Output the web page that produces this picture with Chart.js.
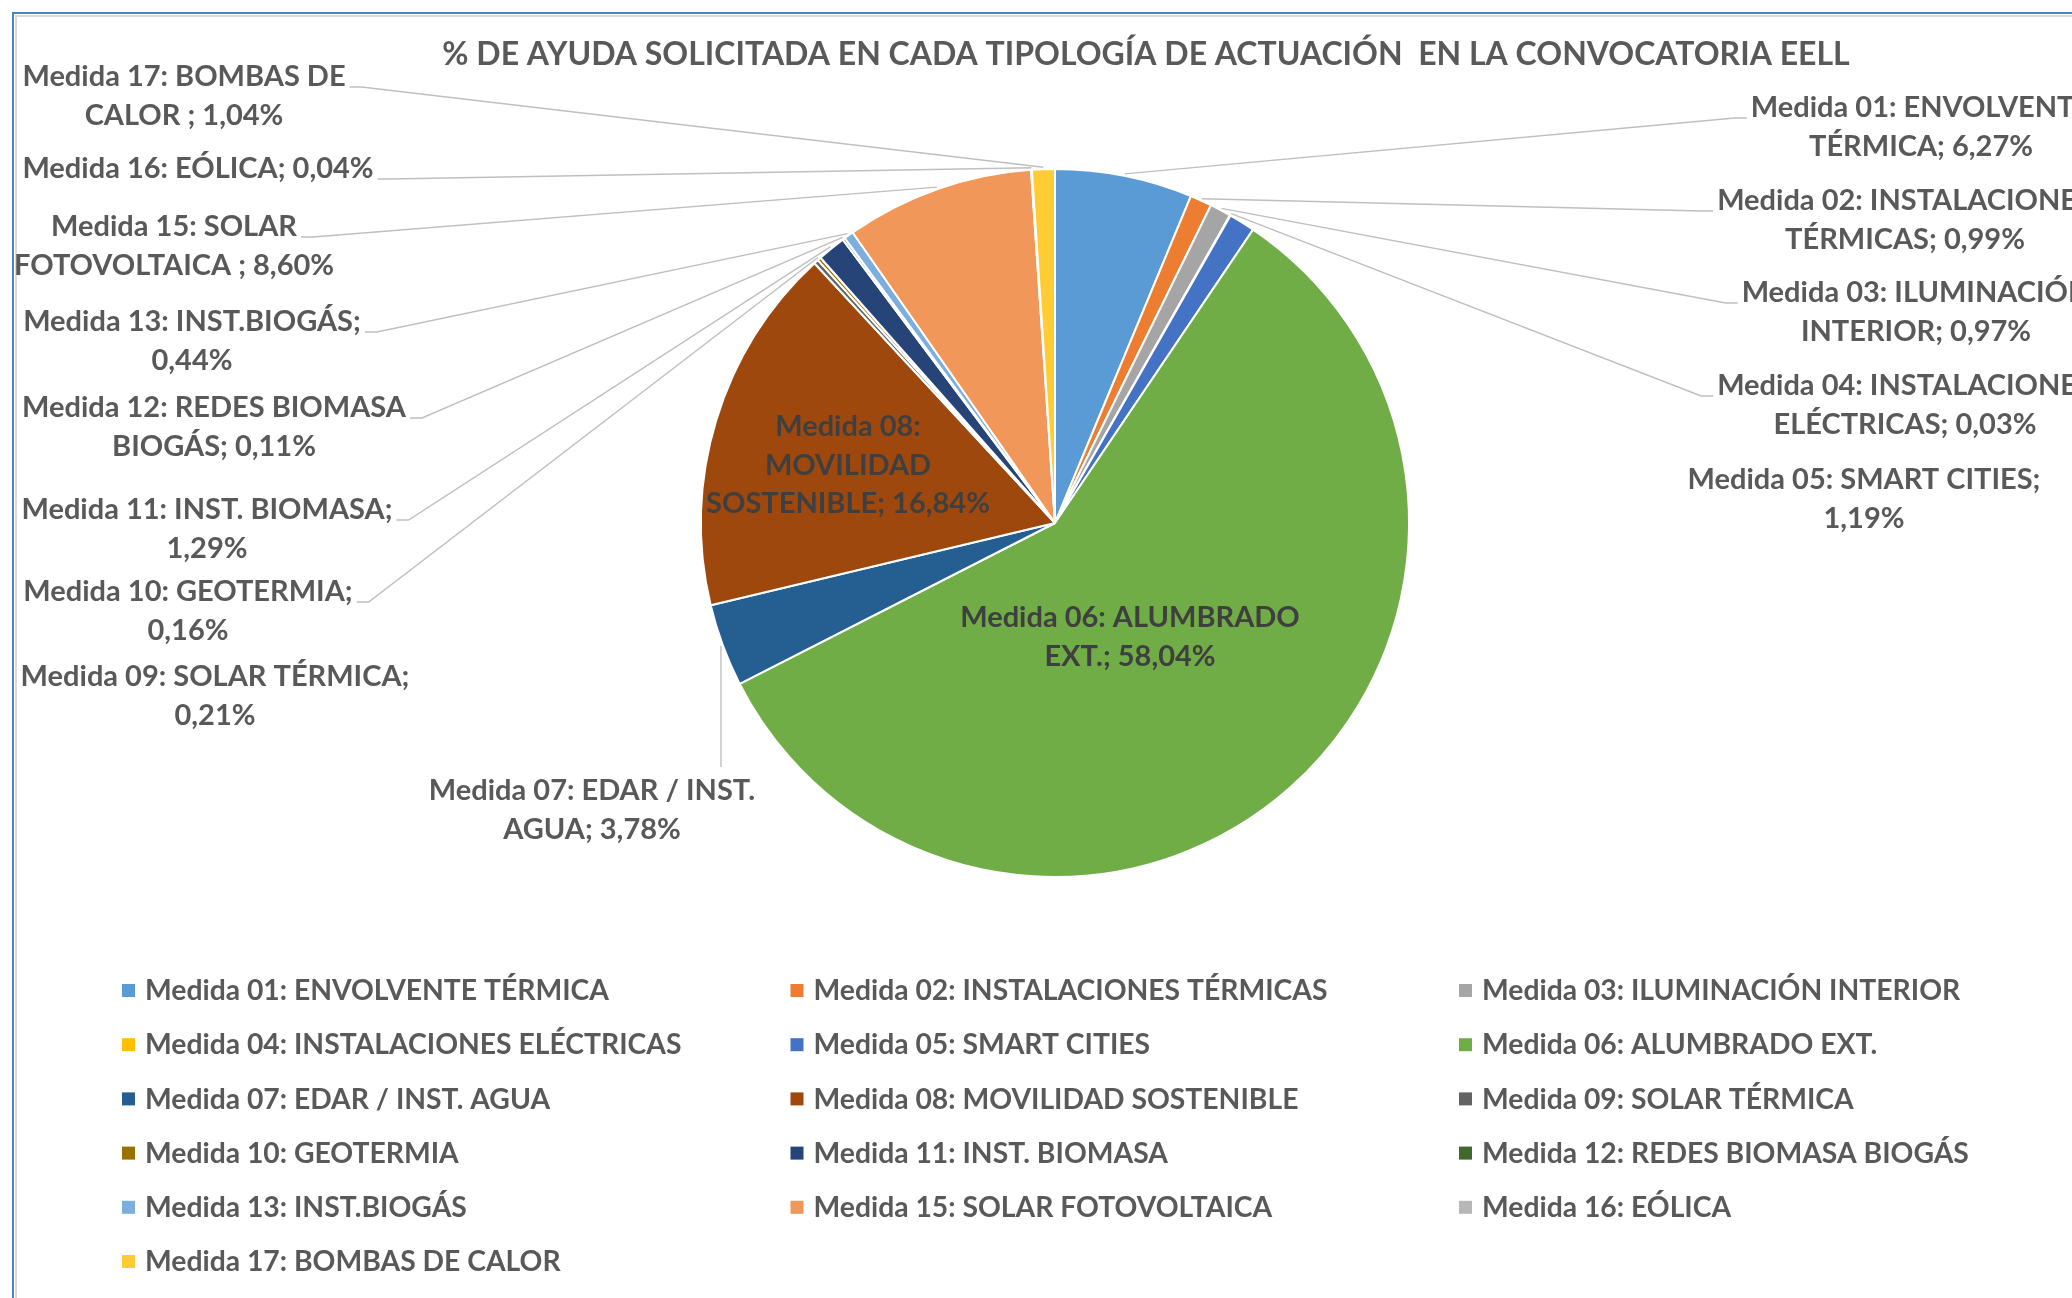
<!DOCTYPE html>
<html lang="es">
<head>
<meta charset="UTF-8">
<title>% de ayuda solicitada - convocatoria EELL</title>
<script src="https://cdn.jsdelivr.net/npm/chart.js"></script>
<style>
    body { margin: 0; background: #fff; }
    canvas { display: block; }
</style>
</head>
<body>
<canvas id="chart" width="2072" height="1298"></canvas>
<script>
    // Data (no Medida 14 in the source)
    const categories = [
        'Medida 01: ENVOLVENTE TÉRMICA',
        'Medida 02: INSTALACIONES TÉRMICAS',
        'Medida 03: ILUMINACIÓN INTERIOR',
        'Medida 04: INSTALACIONES ELÉCTRICAS',
        'Medida 05: SMART CITIES',
        'Medida 06: ALUMBRADO EXT.',
        'Medida 07: EDAR / INST. AGUA',
        'Medida 08: MOVILIDAD SOSTENIBLE',
        'Medida 09: SOLAR TÉRMICA',
        'Medida 10: GEOTERMIA',
        'Medida 11: INST. BIOMASA',
        'Medida 12: REDES BIOMASA BIOGÁS',
        'Medida 13: INST.BIOGÁS',
        'Medida 15: SOLAR FOTOVOLTAICA ',
        'Medida 16: EÓLICA',
        'Medida 17: BOMBAS DE CALOR '
    ];
    const percentages = [6.27, 0.99, 0.97, 0.03, 1.19, 58.04, 3.78, 16.84, 0.21, 0.16, 1.29, 0.11, 0.44, 8.60, 0.04, 1.04];
    const sliceColors = [
        '#5B9BD5', '#ED7D31', '#A5A5A5', '#FFC000', '#4472C4', '#70AD47', '#255E91', '#9E480E',
        '#636363', '#997300', '#264478', '#43682B', '#7CAFDD', '#F1975A', '#B7B7B7', '#FFCD33'
    ];
    const chartTitle = '% DE AYUDA SOLICITADA EN CADA TIPOLOGÍA DE ACTUACIÓN  EN LA CONVOCATORIA EELL';

    // Where each data label goes: centre of first line, wrap width, leader style
    const labelLayout = [
        { x: 1921, y: 108, w: 400, leader: 'right' },
        { x: 1905, y: 201, w: 400, leader: 'right' },
        { x: 1916, y: 293, w: 400, leader: 'right' },
        { x: 1905, y: 386, w: 400, leader: 'right' },
        { x: 1864, y: 480, w: 400, leader: null },
        { x: 1130, y: 618, w: 370, leader: null, inside: true },
        { x: 592, y: 791, w: 400, leader: 'top' },
        { x: 848, y: 427, w: 295, leader: null, inside: true },
        { x: 215, y: 677, w: 400, leader: null },
        { x: 188, y: 592, w: 400, leader: 'left' },
        { x: 207, y: 510, w: 400, leader: 'left' },
        { x: 214, y: 408, w: 400, leader: 'left' },
        { x: 192, y: 322, w: 400, leader: 'left' },
        { x: 174, y: 227, w: 400, leader: 'left' },
        { x: 198, y: 169, w: 400, leader: 'left' },
        { x: 184, y: 77, w: 400, leader: 'left' }
    ];

    const LABEL_FONT = 'bold 29px Lato';
    const LEGEND_FONT = 'bold 28.3px Lato';
    const TEXT_COLOR = '#595959';
    const LINE_H = 38.3;

    function pct(v) {
        return v.toFixed(2).replace('.', ',') + '%';
    }

    function wrap(ctx, text, maxWidth) {
        const words = text.split(' ');
        const lines = [];
        let cur = '';
        words.forEach(w => {
            const test = cur ? cur + ' ' + w : w;
            if (cur && ctx.measureText(test).width > maxWidth) {
                lines.push(cur);
                cur = w;
            } else {
                cur = test;
            }
        });
        lines.push(cur);
        return lines;
    }

    // white background + the chart frame (top and left edges are visible)
    const frame = {
        id: 'frame',
        beforeDraw(chart) {
            const ctx = chart.ctx;
            ctx.save();
            ctx.fillStyle = '#fff';
            ctx.fillRect(0, 0, chart.width, chart.height);
            ctx.strokeStyle = '#D9D9D9';
            ctx.lineWidth = 2;
            ctx.beginPath();
            ctx.moveTo(16, chart.height);
            ctx.lineTo(16, 16);
            ctx.lineTo(chart.width, 16);
            ctx.stroke();
            ctx.strokeStyle = '#4F7FC8';
            ctx.beginPath();
            ctx.moveTo(13, chart.height);
            ctx.lineTo(13, 13);
            ctx.lineTo(chart.width, 13);
            ctx.stroke();
            ctx.restore();
        }
    };

    const titlePlugin = {
        id: 'titleText',
        afterDraw(chart) {
            const ctx = chart.ctx;
            ctx.save();
            ctx.font = 'bold 32px Lato';
            ctx.fillStyle = TEXT_COLOR;
            ctx.textAlign = 'center';
            ctx.textBaseline = 'middle';
            ctx.fillText(chartTitle, 1146, 55);
            ctx.restore();
        }
    };

    // data labels with leader lines, Excel style
    const sliceLabels = {
        id: 'sliceLabels',
        afterDatasetsDraw(chart) {
            const ctx = chart.ctx;
            const arcs = chart.getDatasetMeta(0).data;
            ctx.save();
            ctx.font = LABEL_FONT;
            ctx.textAlign = 'center';
            ctx.textBaseline = 'middle';
            arcs.forEach((arc, i) => {
                const pos = labelLayout[i];
                const lines = wrap(ctx, categories[i] + '; ' + pct(percentages[i]), pos.w);
                const { x, y, startAngle, endAngle, outerRadius } = arc.getProps(['x', 'y', 'startAngle', 'endAngle', 'outerRadius'], true);
                const mid = (startAngle + endAngle) / 2;
                const ax = x + Math.cos(mid) * (outerRadius + 2);
                const ay = y + Math.sin(mid) * (outerRadius + 2);
                const w0 = ctx.measureText(lines[0]).width;

                if (pos.leader) {
                    ctx.strokeStyle = '#BFBFBF';
                    ctx.lineWidth = 1.4;
                    ctx.beginPath();
                    if (pos.leader === 'left') {
                        const sx = pos.x + w0 / 2 + 4;
                        const sy = pos.y + 10;
                        ctx.moveTo(sx, sy);
                        ctx.lineTo(sx + 12, sy);
                        ctx.lineTo(ax, ay);
                    } else if (pos.leader === 'right') {
                        const sx = pos.x - w0 / 2 - 4;
                        const sy = pos.y + 10;
                        ctx.moveTo(sx, sy);
                        ctx.lineTo(sx - 12, sy);
                        ctx.lineTo(ax, ay);
                    } else {
                        ctx.moveTo(ax, pos.y - 24);
                        ctx.lineTo(ax, ay);
                    }
                    ctx.stroke();
                }

                ctx.fillStyle = pos.inside ? '#3F3F3F' : TEXT_COLOR;
                lines.forEach((ln, k) => ctx.fillText(ln, pos.x, pos.y + k * LINE_H));
            });
            ctx.restore();
        }
    };

    // three-column legend under the pie
    const legendGrid = {
        id: 'legendGrid',
        afterDraw(chart) {
            const ctx = chart.ctx;
            ctx.save();
            ctx.font = LEGEND_FONT;
            ctx.textBaseline = 'middle';
            categories.forEach((name, i) => {
                const x = 122 + (i % 3) * 668.5;
                const y = 991 + Math.floor(i / 3) * 54.2;
                ctx.fillStyle = sliceColors[i];
                ctx.fillRect(x, y - 7, 13, 13);
                ctx.fillStyle = TEXT_COLOR;
                ctx.fillText(name.trim(), x + 23, y);
            });
            ctx.restore();
        }
    };

    new Chart(document.getElementById('chart').getContext('2d'), {
        type: 'pie',
        data: {
            labels: categories,
            datasets: [{
                data: percentages,
                backgroundColor: sliceColors,
                borderColor: '#ffffff',
                borderWidth: 2
            }]
        },
        options: {
            responsive: false,
            animation: false,
            layout: { padding: { left: 655, right: 617, top: 168, bottom: 420 } },
            plugins: {
                legend: { display: false },
                title: { display: false },
                tooltip: { enabled: false }
            }
        },
        plugins: [frame, sliceLabels, legendGrid, titlePlugin]
    });
</script>
</body>
</html>
